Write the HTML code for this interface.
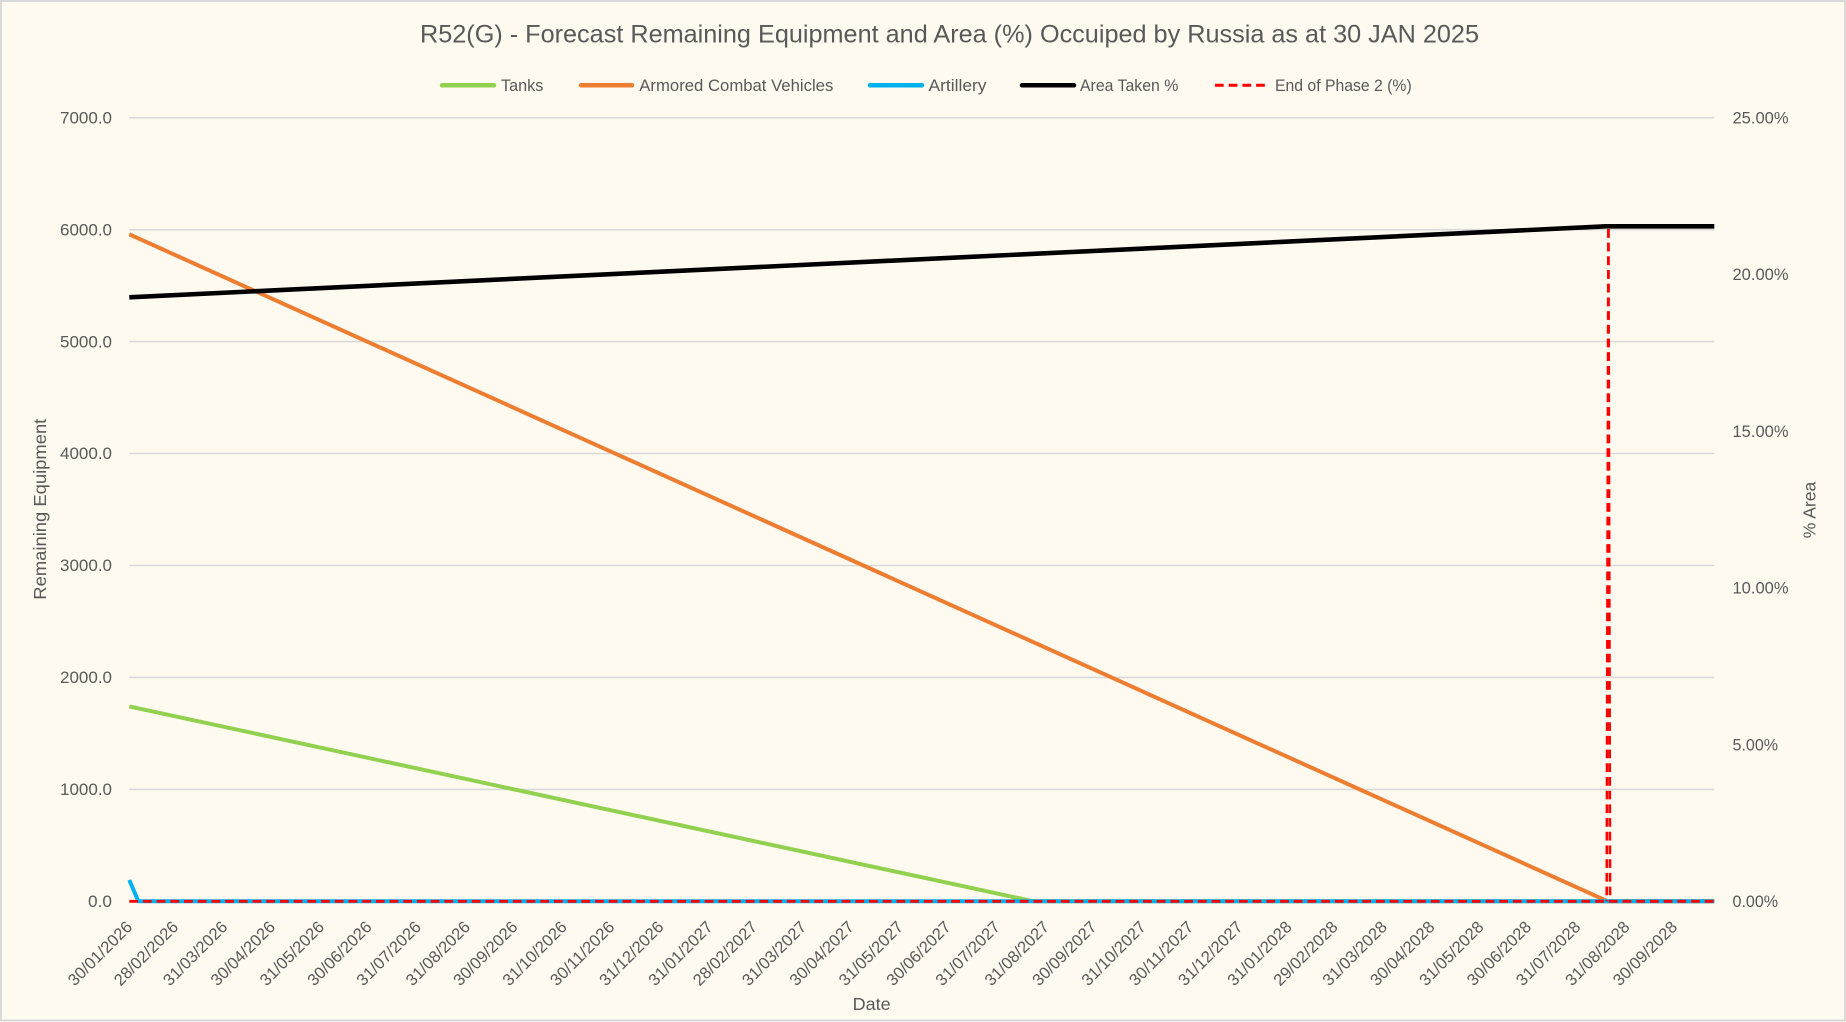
<!DOCTYPE html>
<html>
<head>
<meta charset="utf-8">
<style>
html,body{margin:0;padding:0;background:#FEFAF0;}
svg{display:block;}
text{font-family:"Liberation Sans", sans-serif; fill:#595959;}
</style>
</head>
<body>
<svg width="1846" height="1022" viewBox="0 0 1846 1022" xmlns="http://www.w3.org/2000/svg">
<rect x="0" y="0" width="1846" height="1022" fill="#FEFAF0"/>
<rect x="1" y="1" width="1844" height="1019.5" fill="none" stroke="#D9D9D9" stroke-width="2"/>

<!-- Title -->
<text x="420" y="42.3" font-size="25" textLength="1059" lengthAdjust="spacingAndGlyphs">R52(G) - Forecast Remaining Equipment and Area (%) Occuiped by Russia as at 30 JAN 2025</text>

<!-- Legend -->
<g stroke-linecap="round" stroke-width="4.5" fill="none">
<line x1="442" y1="85.3" x2="494" y2="85.3" stroke="#92D050"/>
<line x1="581" y1="85.3" x2="632" y2="85.3" stroke="#ED7D31"/>
<line x1="870" y1="85.3" x2="922" y2="85.3" stroke="#00B0F0"/>
<line x1="1022" y1="85.3" x2="1074" y2="85.3" stroke="#000000"/>
</g>
<line x1="1215" y1="85.3" x2="1265" y2="85.3" stroke="#FF0000" stroke-width="3" stroke-dasharray="8.7 5"/>
<g font-size="16.5">
<text x="501" y="91" textLength="42.3" lengthAdjust="spacingAndGlyphs">Tanks</text>
<text x="639.3" y="91" textLength="194" lengthAdjust="spacingAndGlyphs">Armored Combat Vehicles</text>
<text x="928.5" y="91" textLength="58" lengthAdjust="spacingAndGlyphs">Artillery</text>
<text x="1080" y="91" textLength="98.3" lengthAdjust="spacingAndGlyphs">Area Taken %</text>
<text x="1275" y="91" textLength="136.7" lengthAdjust="spacingAndGlyphs">End of Phase 2 (%)</text>
</g>

<!-- Gridlines -->
<g stroke="#D9D9D9" stroke-width="1.6">
<line x1="129.3" y1="117.7" x2="1714.3" y2="117.7"/>
<line x1="129.3" y1="229.7" x2="1714.3" y2="229.7"/>
<line x1="129.3" y1="341.6" x2="1714.3" y2="341.6"/>
<line x1="129.3" y1="453.5" x2="1714.3" y2="453.5"/>
<line x1="129.3" y1="565.5" x2="1714.3" y2="565.5"/>
<line x1="129.3" y1="677.4" x2="1714.3" y2="677.4"/>
<line x1="129.3" y1="789.4" x2="1714.3" y2="789.4"/>
<line x1="129.3" y1="901.3" x2="1714.3" y2="901.3"/>
</g>

<!-- Left axis labels -->
<g font-size="16.5" text-anchor="end">
<text x="112" y="123.4" textLength="52" lengthAdjust="spacingAndGlyphs">7000.0</text>
<text x="112" y="235.4" textLength="52" lengthAdjust="spacingAndGlyphs">6000.0</text>
<text x="112" y="347.3" textLength="52" lengthAdjust="spacingAndGlyphs">5000.0</text>
<text x="112" y="459.2" textLength="52" lengthAdjust="spacingAndGlyphs">4000.0</text>
<text x="112" y="571.2" textLength="52" lengthAdjust="spacingAndGlyphs">3000.0</text>
<text x="112" y="683.1" textLength="52" lengthAdjust="spacingAndGlyphs">2000.0</text>
<text x="112" y="795.1" textLength="52" lengthAdjust="spacingAndGlyphs">1000.0</text>
<text x="112" y="907" textLength="24" lengthAdjust="spacingAndGlyphs">0.0</text>
</g>

<!-- Right axis labels -->
<g font-size="16.5">
<text x="1732.5" y="123.4" textLength="56" lengthAdjust="spacingAndGlyphs">25.00%</text>
<text x="1732.5" y="280.1" textLength="56" lengthAdjust="spacingAndGlyphs">20.00%</text>
<text x="1732.5" y="436.8" textLength="56" lengthAdjust="spacingAndGlyphs">15.00%</text>
<text x="1732.5" y="593.6" textLength="56" lengthAdjust="spacingAndGlyphs">10.00%</text>
<text x="1732.5" y="750.3" textLength="45.6" lengthAdjust="spacingAndGlyphs">5.00%</text>
<text x="1732.5" y="907" textLength="45.6" lengthAdjust="spacingAndGlyphs">0.00%</text>
</g>

<!-- Axis titles -->
<text transform="translate(45.8 509.2) rotate(-90)" text-anchor="middle" font-size="17.5" textLength="181" lengthAdjust="spacingAndGlyphs">Remaining Equipment</text>
<text transform="translate(1815.5 510) rotate(-90)" text-anchor="middle" font-size="17.5" textLength="56.6" lengthAdjust="spacingAndGlyphs">% Area</text>
<text x="871.7" y="1010" text-anchor="middle" font-size="17.5" textLength="38" lengthAdjust="spacingAndGlyphs">Date</text>

<!-- Date labels -->
<g font-size="16.5" text-anchor="end">
<text transform="translate(133.3 928) rotate(-45)" textLength="83" lengthAdjust="spacingAndGlyphs">30/01/2026</text>
<text transform="translate(179.3 928) rotate(-45)" textLength="83" lengthAdjust="spacingAndGlyphs">28/02/2026</text>
<text transform="translate(228.5 928) rotate(-45)" textLength="83" lengthAdjust="spacingAndGlyphs">31/03/2026</text>
<text transform="translate(276.1 928) rotate(-45)" textLength="83" lengthAdjust="spacingAndGlyphs">30/04/2026</text>
<text transform="translate(325.2 928) rotate(-45)" textLength="83" lengthAdjust="spacingAndGlyphs">31/05/2026</text>
<text transform="translate(372.8 928) rotate(-45)" textLength="83" lengthAdjust="spacingAndGlyphs">30/06/2026</text>
<text transform="translate(422.0 928) rotate(-45)" textLength="83" lengthAdjust="spacingAndGlyphs">31/07/2026</text>
<text transform="translate(471.2 928) rotate(-45)" textLength="83" lengthAdjust="spacingAndGlyphs">31/08/2026</text>
<text transform="translate(518.7 928) rotate(-45)" textLength="83" lengthAdjust="spacingAndGlyphs">30/09/2026</text>
<text transform="translate(567.9 928) rotate(-45)" textLength="83" lengthAdjust="spacingAndGlyphs">31/10/2026</text>
<text transform="translate(615.5 928) rotate(-45)" textLength="83" lengthAdjust="spacingAndGlyphs">30/11/2026</text>
<text transform="translate(664.7 928) rotate(-45)" textLength="83" lengthAdjust="spacingAndGlyphs">31/12/2026</text>
<text transform="translate(713.8 928) rotate(-45)" textLength="83" lengthAdjust="spacingAndGlyphs">31/01/2027</text>
<text transform="translate(758.3 928) rotate(-45)" textLength="83" lengthAdjust="spacingAndGlyphs">28/02/2027</text>
<text transform="translate(807.4 928) rotate(-45)" textLength="83" lengthAdjust="spacingAndGlyphs">31/03/2027</text>
<text transform="translate(855.0 928) rotate(-45)" textLength="83" lengthAdjust="spacingAndGlyphs">30/04/2027</text>
<text transform="translate(904.2 928) rotate(-45)" textLength="83" lengthAdjust="spacingAndGlyphs">31/05/2027</text>
<text transform="translate(951.8 928) rotate(-45)" textLength="83" lengthAdjust="spacingAndGlyphs">30/06/2027</text>
<text transform="translate(1001.0 928) rotate(-45)" textLength="83" lengthAdjust="spacingAndGlyphs">31/07/2027</text>
<text transform="translate(1050.1 928) rotate(-45)" textLength="83" lengthAdjust="spacingAndGlyphs">31/08/2027</text>
<text transform="translate(1097.7 928) rotate(-45)" textLength="83" lengthAdjust="spacingAndGlyphs">30/09/2027</text>
<text transform="translate(1146.9 928) rotate(-45)" textLength="83" lengthAdjust="spacingAndGlyphs">31/10/2027</text>
<text transform="translate(1194.5 928) rotate(-45)" textLength="83" lengthAdjust="spacingAndGlyphs">30/11/2027</text>
<text transform="translate(1243.6 928) rotate(-45)" textLength="83" lengthAdjust="spacingAndGlyphs">31/12/2027</text>
<text transform="translate(1292.8 928) rotate(-45)" textLength="83" lengthAdjust="spacingAndGlyphs">31/01/2028</text>
<text transform="translate(1338.8 928) rotate(-45)" textLength="83" lengthAdjust="spacingAndGlyphs">29/02/2028</text>
<text transform="translate(1388.0 928) rotate(-45)" textLength="83" lengthAdjust="spacingAndGlyphs">31/03/2028</text>
<text transform="translate(1435.6 928) rotate(-45)" textLength="83" lengthAdjust="spacingAndGlyphs">30/04/2028</text>
<text transform="translate(1484.7 928) rotate(-45)" textLength="83" lengthAdjust="spacingAndGlyphs">31/05/2028</text>
<text transform="translate(1532.3 928) rotate(-45)" textLength="83" lengthAdjust="spacingAndGlyphs">30/06/2028</text>
<text transform="translate(1581.5 928) rotate(-45)" textLength="83" lengthAdjust="spacingAndGlyphs">31/07/2028</text>
<text transform="translate(1630.7 928) rotate(-45)" textLength="83" lengthAdjust="spacingAndGlyphs">31/08/2028</text>
<text transform="translate(1678.3 928) rotate(-45)" textLength="83" lengthAdjust="spacingAndGlyphs">30/09/2028</text>
</g>

<!-- Series -->
<g fill="none" stroke-linejoin="round">
<polyline points="129.3,706.4 1033.3,901.3 1714.3,901.3" stroke="#92D050" stroke-width="4"/>
<polyline points="129.3,234.3 1607.7,901.3 1714.3,901.3" stroke="#ED7D31" stroke-width="4"/>
<polyline points="129.3,880 138.3,901.3 1714.3,901.3" stroke="#00B0F0" stroke-width="4"/>
<polyline points="129.3,297.3 1606,226.3 1714.3,226.3" stroke="#000000" stroke-width="4.6"/>
<line x1="129.3" y1="901.3" x2="1714.3" y2="901.3" stroke="#FF0000" stroke-width="2.8" stroke-dasharray="8.7 5"/>
<line x1="1608.4" y1="229" x2="1606.7" y2="901.3" stroke="#FF0000" stroke-width="2.6" stroke-dasharray="8.7 5"/>
<line x1="1608.4" y1="229" x2="1610.1" y2="901.3" stroke="#FF0000" stroke-width="2.6" stroke-dasharray="8.7 5"/>
</g>
</svg>
</body>
</html>
